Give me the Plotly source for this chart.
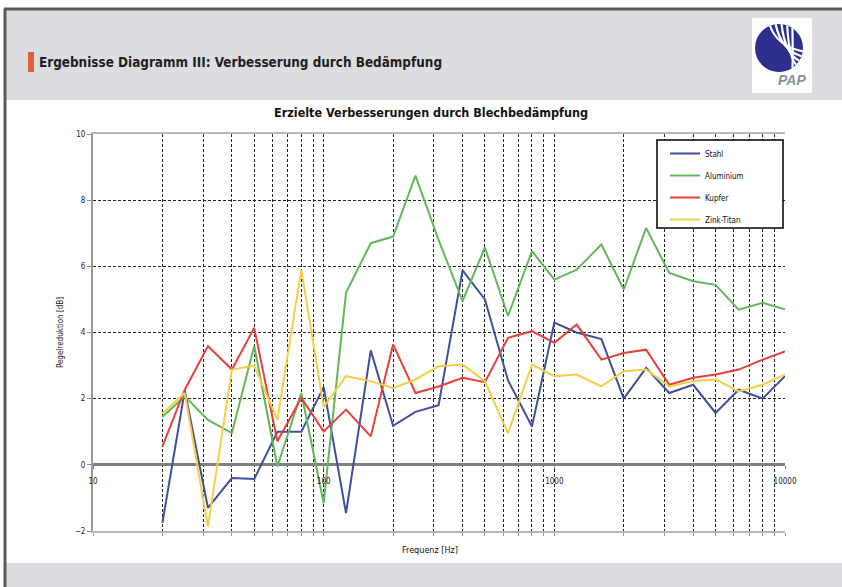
import math
import plotly.graph_objects as go

# ---------------- data ----------------
freqs = [20, 25, 31.5, 40, 50, 63, 80, 100, 125, 160, 200, 250, 315, 400, 500,
         630, 800, 1000, 1250, 1600, 2000, 2500, 3150, 4000, 5000, 6300, 8000, 10000]
stahl = [-1.75, 2.25, -1.3, -0.4, -0.43, 1.0, 1.0, 2.35, -1.46, 3.46, 1.18, 1.6, 1.8, 5.88,
         5.0, 2.55, 1.16, 4.3, 4.0, 3.8, 2.0, 2.93, 2.17, 2.42, 1.57, 2.27, 2.0, 2.68]
aluminium = [1.45, 2.07, 1.36, 0.96, 3.59, -0.05, 2.17, -1.16, 5.2, 6.7, 6.9, 8.74, 6.8, 4.95,
             6.57, 4.5, 6.46, 5.6, 5.9, 6.66, 5.3, 7.16, 5.8, 5.55, 5.44, 4.69, 4.9, 4.7]
kupfer = [0.56, 2.27, 3.59, 2.88, 4.14, 0.71, 2.02, 1.01, 1.67, 0.86, 3.64, 2.17, 2.37, 2.63,
          2.5, 3.84, 4.04, 3.69, 4.24, 3.18, 3.38, 3.48, 2.42, 2.63, 2.73, 2.88, 3.18, 3.43]
zink_titan = [1.55, 2.17, -1.87, 2.88, 3.0, 1.36, 5.9, 1.75, 2.68, 2.53, 2.32, 2.58, 2.98, 3.03,
              2.53, 0.96, 3.03, 2.68, 2.73, 2.37, 2.83, 2.88, 2.37, 2.53, 2.58, 2.22, 2.42, 2.73]

series_names = ["Stahl", "Aluminium", "Kupfer", "Zink-Titan"]
series_values = [stahl, aluminium, kupfer, zink_titan]
series_colors = ["#3f4f9e", "#62b75a", "#e5403a", "#f3cf45"]

grid_vals = [v * m for m in (10, 100, 1000) for v in range(1, 10)] + [10000]
major_vals = [10, 100, 1000, 10000]
major_text = ["10", "100", "1000", "10000"]
y_tick_vals = [-2, 0, 2, 4, 6, 8, 10]

slide_title = "Ergebnisse Diagramm III: Verbesserung durch Bedämpfung"
chart_title = "Erzielte Verbesserungen durch Blechbedämpfung"
x_title = "Frequenz [Hz]"
y_title = "Pegelreduktion [dB]"

# ---------------- layout geometry ----------------
W, H = 842, 587
ML, MR, MT, MB = 93, 57, 134, 56
PW, PH = W - ML - MR, H - MT - MB


def px(X):
    return (X - ML) / PW


def py(Y):
    return (H - MB - Y) / PH


NARROW = "Liberation Sans Narrow, DejaVu Sans Condensed, Arial Narrow, sans-serif"

fig = go.Figure()
for name, vals, col in zip(series_names, series_values, series_colors):
    fig.add_trace(go.Scatter(x=freqs, y=vals, mode="lines", name=name,
                             legendgroup=name,
                             line=dict(color=col, width=2)))

# invisible trace to activate the axis carrying labels at y = 0
fig.add_trace(go.Scatter(x=freqs, y=stahl, xaxis="x2", mode="lines",
                         line=dict(width=0), opacity=0, showlegend=False,
                         hoverinfo="skip"))

shapes = []
shapes.append(dict(type="rect", xref="paper", yref="paper", x0=px(5), x1=px(842),
                   y0=py(100), y1=py(10), fillcolor="#dcdde0", line=dict(width=0), layer="below"))
shapes.append(dict(type="rect", xref="paper", yref="paper", x0=px(5), x1=px(842),
                   y0=py(587), y1=py(563), fillcolor="#dcdde0", line=dict(width=0), layer="below"))
shapes.append(dict(type="line", xref="paper", yref="paper", x0=px(4), x1=px(842),
                   y0=py(9), y1=py(9), line=dict(color="#5a5a5a", width=3)))
shapes.append(dict(type="line", xref="paper", yref="paper", x0=px(5), x1=px(5),
                   y0=py(9), y1=py(587), line=dict(color="#5a5a5a", width=3)))
shapes.append(dict(type="rect", xref="paper", yref="paper", x0=px(28), x1=px(34),
                   y0=py(72), y1=py(52), fillcolor="#e3603a", line=dict(width=0)))
shapes.append(dict(type="rect", xref="paper", yref="paper", x0=px(752), x1=px(812),
                   y0=py(93), y1=py(18), fillcolor="#ffffff", line=dict(width=0)))
cx, cy, r = 779, 48, 24
shapes.append(dict(type="circle", xref="paper", yref="paper", x0=px(cx - r), x1=px(cx + r),
                   y0=py(cy + r), y1=py(cy - r), fillcolor="#2d2f8f", line=dict(width=0)))
for k in range(5):
    a0 = math.radians(112 - 14 * k)
    a1 = math.radians(-8 - 12 * k)
    sx, sy = cx + r * math.cos(a0), cy - r * math.sin(a0)
    ex, ey = cx + r * math.cos(a1), cy - r * math.sin(a1)
    qx, qy = cx - 2 + 4 * k, cy - 2 + 4 * k
    path = "M %f %f Q %f %f %f %f" % (px(sx), py(sy), px(qx), py(qy), px(ex), py(ey))
    shapes.append(dict(type="path", xref="paper", yref="paper", path=path,
                       line=dict(color="#ffffff", width=2.2)))
# legend frame
shapes.append(dict(type="rect", xref="paper", yref="paper", x0=px(657), x1=px(783),
                   y0=py(228), y1=py(140), fillcolor="#ffffff",
                   line=dict(color="#000000", width=1.5), layer="above"))

annotations = [
    dict(text="<b>" + slide_title + "</b>", xref="paper", yref="paper", x=px(37), y=py(62),
         xanchor="left", yanchor="middle", showarrow=False,
         font=dict(family=NARROW, size=13.4, color="#1e1e1e")),
    dict(text="<b><i>PAP</i></b>", xref="paper", yref="paper", x=px(792), y=py(80),
         xanchor="center", yanchor="middle", showarrow=False,
         font=dict(family="Liberation Sans, Arial, sans-serif", size=14, color="#8c90a3")),
    dict(text="<b>" + chart_title + "</b>", xref="paper", yref="paper", x=px(431), y=py(113),
         xanchor="center", yanchor="middle", showarrow=False,
         font=dict(family=NARROW, size=12.5, color="#111111")),
    dict(text=x_title, xref="paper", yref="paper", x=px(430), y=py(550),
         xanchor="center", yanchor="middle", showarrow=False,
         font=dict(family=NARROW, size=9, color="#111111")),
]

fig.update_layout(
    width=W, height=H,
    margin=dict(l=ML, r=MR, t=MT, b=MB, autoexpand=False),
    paper_bgcolor="#ffffff", plot_bgcolor="#ffffff",
    showlegend=True,
    legend=dict(x=px(665), y=py(139), xanchor="left", yanchor="top",
                bgcolor="rgba(0,0,0,0)", borderwidth=0,
                font=dict(family=NARROW, size=8, color="#111111"),
                tracegroupgap=3, itemwidth=30),
    xaxis=dict(type="log", range=[1, 4], tickvals=grid_vals, showticklabels=False,
               ticks="outside", ticklen=3, tickcolor="#999999",
               showgrid=True, gridcolor="#222222", gridwidth=1, griddash="3px,2px",
               showline=True, linecolor="#b8b8b8", linewidth=1.5, mirror=True,
               zeroline=False),
    xaxis2=dict(type="log", range=[1, 4], overlaying="x", anchor="free", position=1 / 6,
                side="bottom", tickvals=major_vals, ticktext=major_text,
                ticks="outside", ticklen=3, tickcolor="#777777", ticklabelstandoff=6,
                tickfont=dict(family=NARROW, size=8, color="#222222"),
                showgrid=False, showline=False, zeroline=False),
    yaxis=dict(range=[-2, 10], tickvals=y_tick_vals, ticks="outside", ticklen=4,
               tickcolor="#888888",
               tickfont=dict(family=NARROW, size=8, color="#222222"),
               showgrid=True, gridcolor="#222222", gridwidth=1, griddash="3px,2px",
               showline=True, linecolor="#999999", linewidth=2, mirror=False,
               zeroline=True, zerolinecolor="#808080", zerolinewidth=2.5,
               title=dict(text=y_title, standoff=10,
                          font=dict(family=NARROW, size=8, color="#222222"))),
    shapes=shapes,
    annotations=annotations,
)

fig.write_html("out.html", config={"displayModeBar": False},
               post_script="document.body.style.margin='0';")
